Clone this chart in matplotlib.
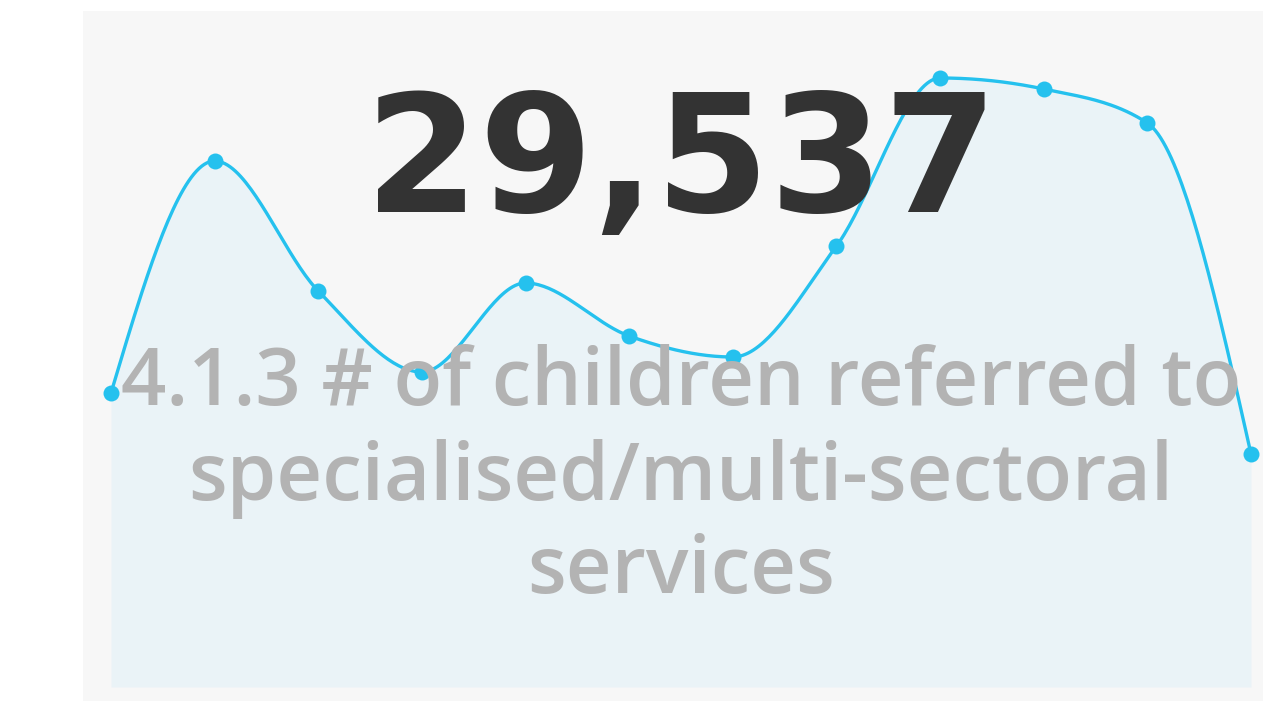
import numpy as np
import matplotlib
matplotlib.use("Agg")
import matplotlib.pyplot as plt
from matplotlib.patches import Rectangle

# ---- data ----
periods = list(range(1, 13))
values = [294, 526, 396, 315, 404, 351, 330, 441, 609, 598, 564, 233]
kpi_value = "29,537"
title_lines = ["4.1.3 # of children referred to",
               "specialised/multi-sectoral",
               "services"]

W, H = 1263, 701
LINE = "#25c1ee"
FILL = "#eaf3f7"
PANEL = "#f7f7f7"


def monotone_x(x, y, n=40):
    """d3 curveMonotoneX style interpolation (Steffen)."""
    x = np.asarray(x, float)
    y = np.asarray(y, float)
    m = len(x)
    h = np.diff(x)
    s = np.diff(y) / h
    t = np.zeros(m)
    for i in range(1, m - 1):
        h0, h1 = h[i - 1], h[i]
        s0, s1 = s[i - 1], s[i]
        p = (s0 * h1 + s1 * h0) / (h0 + h1)
        t[i] = (np.sign(s0) + np.sign(s1)) * min(abs(s0), abs(s1), 0.5 * abs(p))
    t[0] = (3 * s[0] - t[1]) / 2
    t[-1] = (3 * s[-1] - t[-2]) / 2
    xs, ys = [], []
    for i in range(m - 1):
        dx = (x[i + 1] - x[i]) / 3
        p0 = np.array([x[i], y[i]])
        p1 = np.array([x[i] + dx, y[i] + dx * t[i]])
        p2 = np.array([x[i + 1] - dx, y[i + 1] - dx * t[i + 1]])
        p3 = np.array([x[i + 1], y[i + 1]])
        u = np.linspace(0, 1, n, endpoint=(i == m - 2))[:, None]
        pts = ((1 - u) ** 3) * p0 + 3 * ((1 - u) ** 2) * u * p1 + 3 * (1 - u) * u ** 2 * p2 + u ** 3 * p3
        xs.append(pts[:, 0])
        ys.append(pts[:, 1])
    return np.concatenate(xs), np.concatenate(ys)


fig = plt.figure(figsize=(W / 100, H / 100), dpi=100)
fig.patch.set_facecolor("white")

# panel background
fig.patches.append(Rectangle((83 / W, 0), (W - 83) / W, (701 - 11) / H,
                             transform=fig.transFigure, facecolor=PANEL,
                             edgecolor="none", zorder=-5))

ax = fig.add_axes([111 / W, (H - 687) / H, (1251 - 111) / W, (687 - 11) / H])
ax.set_zorder(1)
ax.patch.set_visible(False)
for sp in ax.spines.values():
    sp.set_visible(False)
ax.set_xticks([])
ax.set_yticks([])
ax.set_xlim(periods[0], periods[-1])
ax.set_ylim(0, 676)

cx, cy = monotone_x(periods, values)
ax.fill_between(cx, 0, cy, color=FILL, linewidth=0, zorder=1)
ax.plot(cx, cy, color=LINE, linewidth=2.4, zorder=2, clip_on=False,
        solid_capstyle="round")
ax.plot(periods, values, "o", color=LINE, markersize=11.5, zorder=3,
        clip_on=False, markeredgewidth=0)

# big KPI number
fig.text(681 / W, 1 - 212 / H, kpi_value, ha="center", va="baseline",
         fontsize=118, fontweight="bold", family="DejaVu Sans",
         color="#333333", zorder=10)

# title lines
baselines = [405, 500, 593]
for line, b in zip(title_lines, baselines):
    fig.text(681 / W, 1 - b / H, line, ha="center", va="baseline",
             fontsize=57.3, fontweight="semibold",
             family=["Open Sans", "DejaVu Sans"],
             color="#b3b3b3", zorder=10)

fig.savefig("out.png", dpi=100)
